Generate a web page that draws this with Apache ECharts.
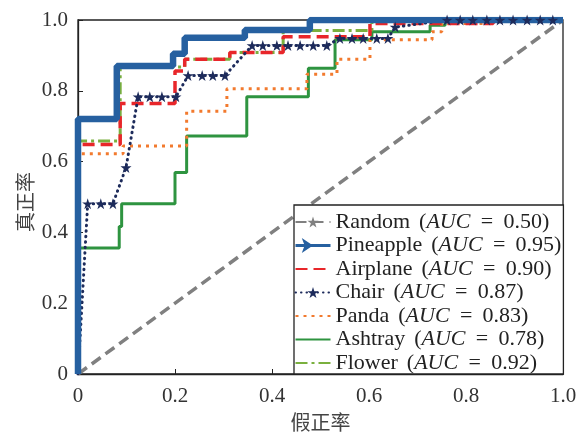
<!DOCTYPE html>
<html><head><meta charset="utf-8">
<script src="https://cdn.jsdelivr.net/npm/echarts@6/dist/echarts.min.js"></script>
<style>html,body{margin:0;padding:0;background:#fff}#c{width:585px;height:437px}</style>
</head><body><div id="c"></div>
<script>
// ---- data ----
const xTickLabels = ['0','0.2','0.4','0.6','0.8','1.0'];
const yTickLabels = ['0','0.2','0.4','0.6','0.8','1.0'];
const xName = '假正率';
const yName = '真正率';
const legendOrder = ['Random','Pineapple','Airplane','Chair','Panda','Ashtray','Flower'];
const aucValues = ['0.50','0.95','0.90','0.87','0.83','0.78','0.92'];

const randomPts = [[0,0],[1,1]];
// ROC vertices (step curves, horizontal then vertical)
const pineapplePts = [[0,0],[0,0.72],[0.08,0.87],[0.196,0.905],[0.22,0.95],[0.344,0.972],[0.478,1],[1,1]];
const airplanePts = [[0,0],[0,0.648],[0.087,0.764],[0.2,0.856],[0.22,0.889],[0.313,0.908],[0.423,0.953],[0.602,0.99],[0.856,1],[1,1]];
const pandaPts = [[0,0],[0,0.622],[0.093,0.644],[0.224,0.742],[0.307,0.806],[0.472,0.847],[0.534,0.889],[0.602,0.944],[0.73,0.967],[0.75,0.99],[0.856,1],[1,1]];
const ashtrayPts = [[0,0],[0,0.356],[0.085,0.417],[0.09,0.481],[0.2,0.569],[0.224,0.672],[0.348,0.783],[0.475,0.864],[0.53,0.944],[0.606,0.967],[0.726,0.985],[0.757,1],[1,1]];
const flowerPts = [[0,0],[0,0.658],[0.087,0.867],[0.22,0.889],[0.313,0.908],[0.423,0.97],[0.606,1],[1,1]];
// Chair: polyline through its marked points
const chairPts = [[0,0],[0.02,0.481],[0.047,0.481],[0.072,0.481],[0.099,0.583],[0.124,0.783],[0.148,0.783],[0.173,0.783],[0.202,0.783],
  [0.227,0.843],[0.256,0.843],[0.278,0.843],[0.303,0.843],[0.359,0.928],[0.381,0.928],[0.41,0.928],[0.433,0.928],[0.458,0.928],[0.485,0.928],[0.513,0.928],
  [0.54,0.948],[0.565,0.948],[0.588,0.948],[0.616,0.948],[0.639,0.948],[0.654,0.98],[0.761,1],[0.788,1],[0.814,1],[0.843,1],[0.87,1],[0.897,1],[0.926,1],[0.953,1],[0.979,1]];

// ---- chart ----
const STAR = 'path://M50,0 L61.2,34.5 L97.6,34.5 L68.2,55.9 L79.4,90.5 L50,69.1 L20.6,90.5 L31.8,55.9 L2.4,34.5 L38.8,34.5 Z';
const chart = echarts.init(document.getElementById('c'), null, {renderer:'canvas'});
const serif = "'Liberation Serif', 'Times New Roman', serif";
const tok = (extra) => Object.assign({fontFamily: serif, fontSize: 22, color: '#222', lineHeight: 22}, extra || {});

const option = {
  animation: false,
  backgroundColor: '#fff',
  grid: {left: 78, top: 20, right: 22, bottom: 57, show: true, borderColor: '#222', borderWidth: 1.3, backgroundColor: 'transparent'},
  xAxis: {
    type: 'value', min: 0, max: 1, interval: 0.2,
    name: xName, nameLocation: 'middle', nameGap: 38, nameMoveOverlap: false,
    nameTextStyle: {fontFamily: 'Noto Sans CJK SC', fontSize: 20, color: '#444'},
    axisLine: {lineStyle: {color: '#222', width: 1.3}},
    axisTick: {inside: true, length: 5, lineStyle: {color: '#222', width: 1}},
    axisLabel: {margin: 12, fontFamily: serif, fontSize: 21, color: '#333', formatter: (v, i) => xTickLabels[i]},
    splitLine: {show: false}
  },
  yAxis: {
    type: 'value', min: 0, max: 1, interval: 0.2,
    name: yName, nameLocation: 'middle', nameGap: 43, nameRotate: 90, nameMoveOverlap: false,
    nameTextStyle: {fontFamily: 'Noto Sans CJK SC', fontSize: 20, color: '#444', padding: [0, 10, 0, 0]},
    axisLine: {lineStyle: {color: '#222', width: 1.3}},
    axisTick: {inside: true, length: 5, lineStyle: {color: '#222', width: 1}},
    axisLabel: {margin: 10, fontFamily: serif, fontSize: 21, color: '#333', formatter: (v, i) => yTickLabels[i]},
    splitLine: {show: false}
  },
  legend: {
    orient: 'vertical', left: 294, top: 205,
    itemWidth: 35, itemHeight: 14, itemGap: 1.5,
    padding: [6, 2, 0, 0],
    backgroundColor: '#fff', borderColor: '#222', borderWidth: 1.3, borderRadius: 0,
    data: [
      {name: 'Random'},
      {name: 'Pineapple', iconRotate: -90, lineStyle: {width: 3}},
      {name: 'Airplane', itemStyle: {opacity: 0}},
      {name: 'Chair'},
      {name: 'Panda', itemStyle: {opacity: 0}},
      {name: 'Ashtray', itemStyle: {opacity: 0}},
      {name: 'Flower', itemStyle: {opacity: 0}}
    ],
    formatter: name => {
      const k = legendOrder.indexOf(name);
      return `{n|${name}}{s| }{p|(}{i|AUC}{e|=}{d|${aucValues[k]})}`;
    },
    textStyle: {
      fontFamily: serif, fontSize: 22, color: '#222', lineHeight: 22,
      rich: {
        n: tok(), s: tok({width: 9}), p: tok(), i: tok({fontStyle: 'italic'}),
        e: tok({width: 33, align: 'center'}), d: tok()
      }
    },
    selectedMode: false
  },
  series: [
    {name: 'Random', type: 'line', data: randomPts, symbol: STAR, showSymbol: false,
      itemStyle: {color: '#808080'}, lineStyle: {color: '#808080', width: 3.5, type: [11, 6]}},
    {name: 'Ashtray', type: 'line', data: ashtrayPts, step: 'end', symbol: 'circle', showSymbol: false,
      itemStyle: {color: '#2E9440'}, lineStyle: {color: '#2E9440', width: 3}},
    {name: 'Panda', type: 'line', data: pandaPts, step: 'end', symbol: 'circle', showSymbol: false,
      itemStyle: {color: '#F27A2E'}, lineStyle: {color: '#F27A2E', width: 3, type: [3, 5]}},
    {name: 'Flower', type: 'line', data: flowerPts, step: 'end', symbol: 'circle', showSymbol: false,
      itemStyle: {color: '#7AB03E'}, lineStyle: {color: '#7AB03E', width: 3, type: [12, 4, 3, 4]}},
    {name: 'Airplane', type: 'line', data: airplanePts, step: 'end', symbol: 'circle', showSymbol: false,
      itemStyle: {color: '#E8262A'}, lineStyle: {color: '#E8262A', width: 3.5, type: [12, 6]}},
    {name: 'Chair', type: 'line', data: chairPts, symbol: STAR,
      symbolSize: v => (v[0] === 0 && v[1] === 0) ? 0 : 11,
      itemStyle: {color: '#1D2B5B'}, lineStyle: {color: '#1D2B5B', width: 3, type: [0.5, 5], cap: 'round'}},
    {name: 'Pineapple', type: 'line', data: pineapplePts, step: 'end', symbol: 'arrow', symbolRotate: -90, showSymbol: false,
      itemStyle: {color: '#2660A0'}, lineStyle: {color: '#2660A0', width: 6.5}}
  ]
};
chart.setOption(option);
</script></body></html>
